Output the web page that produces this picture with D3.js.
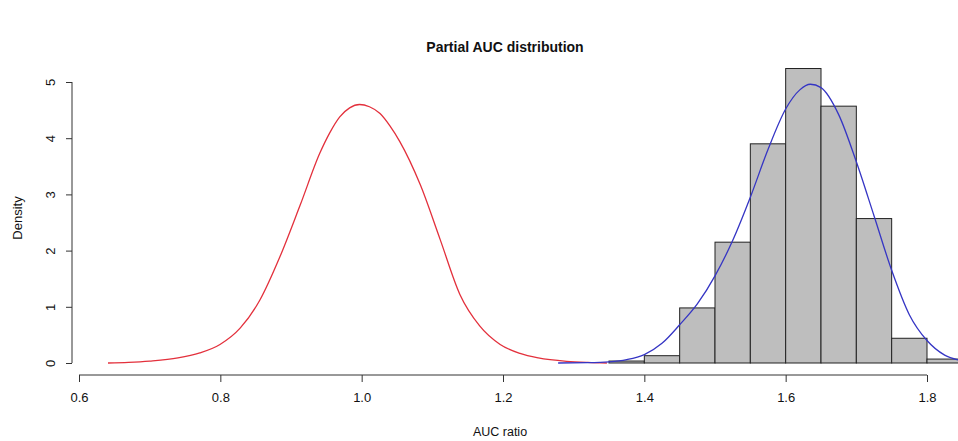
<!DOCTYPE html>
<html>
<head>
<meta charset="utf-8">
<script src="https://cdn.jsdelivr.net/npm/d3@7"></script>
<style>
  html, body { margin: 0; padding: 0; background: #fff; }
  svg { display: block; }
  text { font-family: "Liberation Sans", Arial, Helvetica, sans-serif; fill: #111; }
</style>
</head>
<body>
<svg id="chart" width="958" height="441"></svg>
<script>
// ---- data ----
const binEdges = [1.35, 1.40, 1.45, 1.50, 1.55, 1.60, 1.65, 1.70, 1.75, 1.80, 1.85];
const binDensity = [0.035, 0.13, 0.98, 2.15, 3.90, 5.24, 4.57, 2.57, 0.44, 0.07];

const redX = [0.641, 0.67, 0.70, 0.74, 0.771, 0.7995, 0.828, 0.856, 0.884, 0.913, 0.941, 0.955, 0.969, 0.983, 0.997,
              1.011, 1.026, 1.040, 1.054, 1.083, 1.111, 1.139, 1.167, 1.196, 1.224, 1.25, 1.29, 1.32, 1.347];
const redY = [0.00, 0.012, 0.035, 0.09, 0.18, 0.33, 0.62, 1.12, 1.88, 2.81, 3.74, 4.10, 4.38, 4.54, 4.60,
              4.56, 4.44, 4.22, 3.94, 3.17, 2.20, 1.22, 0.66, 0.33, 0.17, 0.09, 0.03, 0.01, 0.00];

const blueX = [1.278, 1.32, 1.35, 1.375, 1.40, 1.425, 1.45, 1.475, 1.50, 1.525, 1.55, 1.575, 1.60,
               1.62, 1.635, 1.65, 1.675, 1.70, 1.725, 1.75, 1.775, 1.80, 1.825, 1.85, 1.87];
const blueY = [0.00, 0.005, 0.02, 0.06, 0.15, 0.35, 0.68, 1.05, 1.55, 2.18, 2.95, 3.80, 4.52,
               4.86, 4.96, 4.90, 4.42, 3.58, 2.62, 1.65, 0.86, 0.40, 0.14, 0.04, 0.01];

const xTicks = [0.6, 0.8, 1.0, 1.2, 1.4, 1.6, 1.8];
const yTicks = [0, 1, 2, 3, 4, 5];

const titleText = "Partial AUC distribution";
const xLabel = "AUC ratio";
const yLabel = "Density";

// ---- scales ----
const svg = d3.select("#chart");
const x = d3.scaleLinear().domain([0.6, 1.8]).range([79, 927]);
const y = d3.scaleLinear().domain([0, 5]).range([363, 82]);

// ---- histogram ----
const bins = binDensity.map((d, i) => ({ x0: binEdges[i], x1: binEdges[i + 1], d }));
svg.append("g").selectAll("rect").data(bins).enter().append("rect")
  .attr("x", b => x(b.x0))
  .attr("width", b => x(b.x1) - x(b.x0))
  .attr("y", b => y(b.d))
  .attr("height", b => y(0) - y(b.d))
  .attr("fill", "#bebebe")
  .attr("stroke", "#222")
  .attr("stroke-width", 1);

// ---- density curves ----
const line = d3.line().x(p => x(p[0])).y(p => y(p[1])).curve(d3.curveMonotoneX);
svg.append("path").datum(redX.map((v, i) => [v, redY[i]]))
  .attr("d", line).attr("fill", "none").attr("stroke", "#e3303c").attr("stroke-width", 1.3);
svg.append("path").datum(blueX.map((v, i) => [v, blueY[i]]))
  .attr("d", line).attr("fill", "none").attr("stroke", "#3535c4").attr("stroke-width", 1.3);

// ---- axes ----
const xAxis = svg.append("g").attr("transform", "translate(0,375)")
  .call(d3.axisBottom(x).tickValues(xTicks).tickFormat(d3.format(".1f")).tickSize(7).tickPadding(11).tickSizeOuter(0));
xAxis.select(".domain").attr("d", `M${x(0.6)},0H${x(1.8)}`);
const yAxis = svg.append("g").attr("transform", "translate(72,0)")
  .call(d3.axisLeft(y).tickValues(yTicks).tickFormat(d3.format("d")).tickSize(6).tickSizeOuter(0));
yAxis.select(".domain").attr("d", `M0,${y(0)}V${y(5)}`);
[xAxis, yAxis].forEach(a => {
  a.selectAll(".domain, .tick line").attr("stroke", "#333").attr("stroke-width", 1);
  a.selectAll("text").style("font-size", "13px").attr("fill", "#222");
});
// y tick labels rotated parallel to axis (R style)
yAxis.selectAll(".tick text")
  .attr("x", null).attr("dy", null)
  .attr("transform", "translate(-22,0) rotate(-90)")
  .attr("text-anchor", "middle")
  .attr("dy", "0.35em");

// ---- titles ----
svg.append("text").attr("x", 505).attr("y", 52).attr("text-anchor", "middle")
  .style("font-size", "14px").style("font-weight", "bold").text(titleText);
svg.append("text").attr("x", 500).attr("y", 436).attr("text-anchor", "middle")
  .style("font-size", "12.5px").text(xLabel);
svg.append("text").attr("transform", "translate(22,218) rotate(-90)").attr("text-anchor", "middle")
  .style("font-size", "13px").text(yLabel);
</script>
</body>
</html>
